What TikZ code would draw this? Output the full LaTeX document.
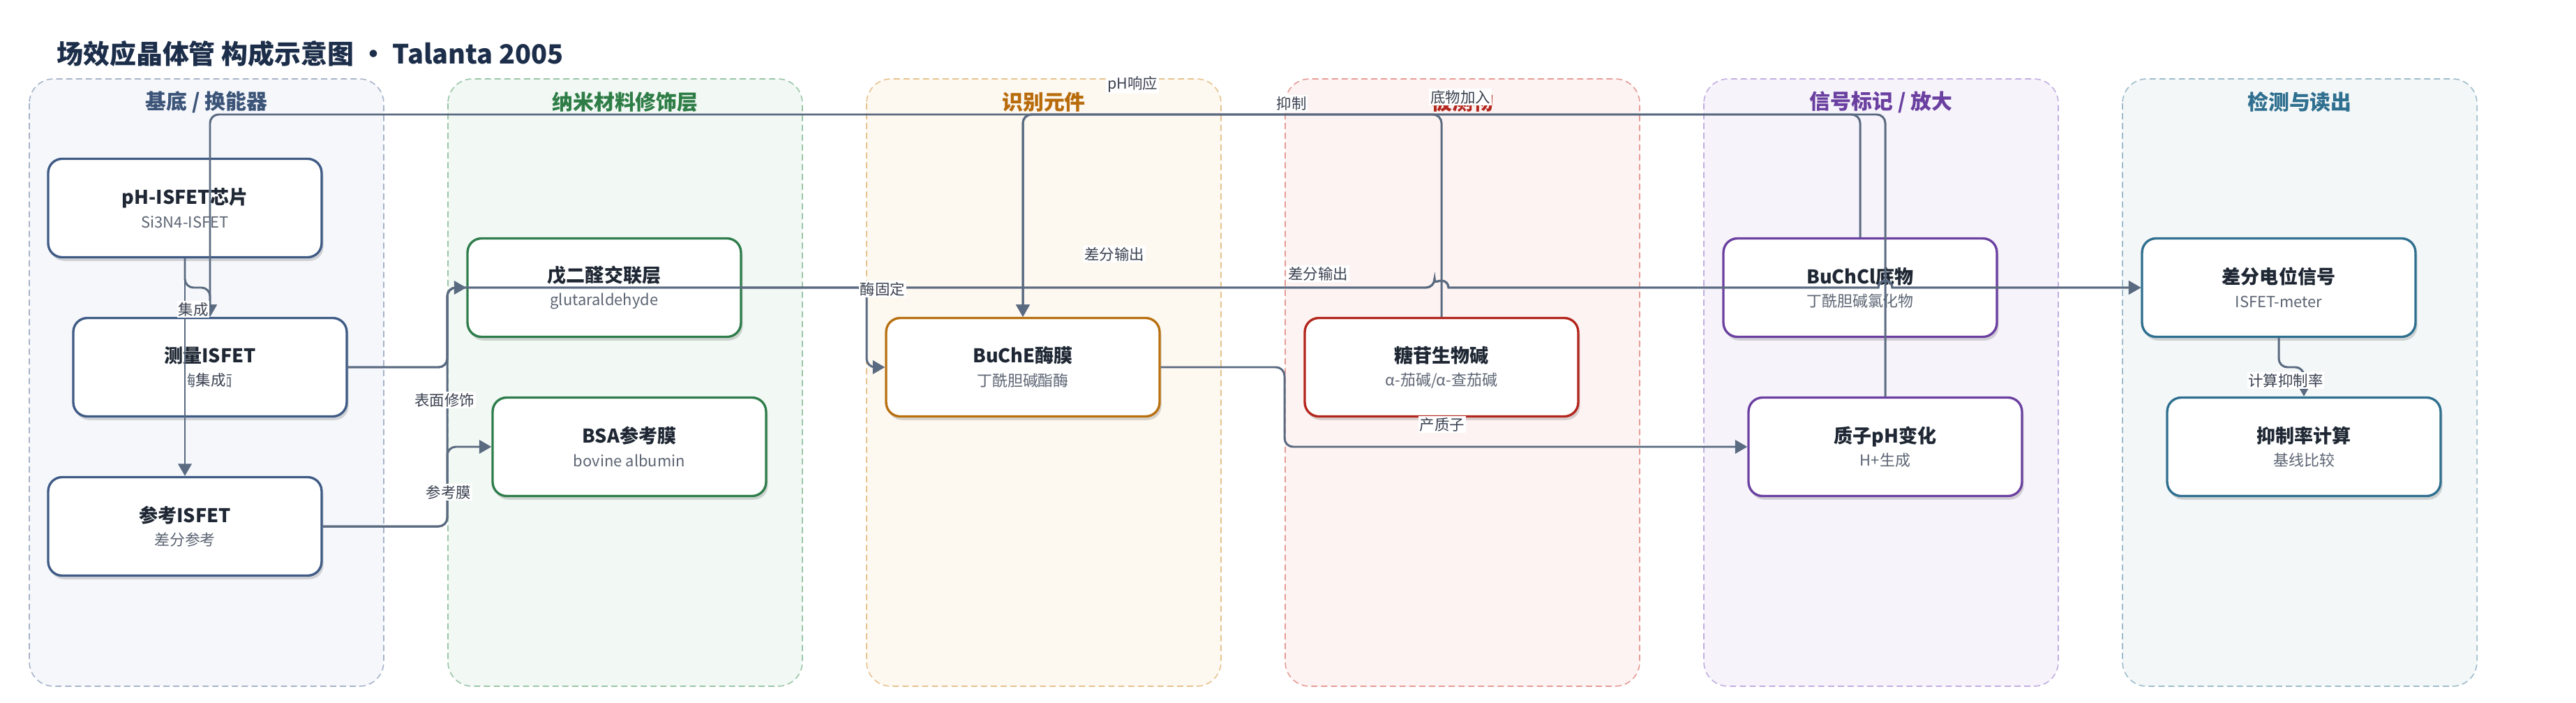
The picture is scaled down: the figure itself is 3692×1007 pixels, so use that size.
\documentclass[tikz,border=0pt]{standalone}
\usepackage{fontspec}
\setmainfont{Noto Sans CJK SC}
\usetikzlibrary{arrows.meta,calc,shadows}

\definecolor{titlec}{HTML}{1C2E4A}
\definecolor{nodetxt}{HTML}{1E2733}
\definecolor{subtxt}{HTML}{5C6573}
\definecolor{edgec}{HTML}{5A6A80}
\definecolor{lblc}{HTML}{3A4150}
% group colours: fill / dashed border / title / node border
\definecolor{gAf}{HTML}{F5F7FB}\definecolor{gAb}{HTML}{A7B4C8}\definecolor{gAt}{HTML}{3B5478}\definecolor{gAn}{HTML}{3F5B85}
\definecolor{gBf}{HTML}{F2F8F4}\definecolor{gBb}{HTML}{9AC6A7}\definecolor{gBt}{HTML}{2E7D46}\definecolor{gBn}{HTML}{2E7D4A}
\definecolor{gCf}{HTML}{FDF8F0}\definecolor{gCb}{HTML}{E6C38E}\definecolor{gCt}{HTML}{B86B0B}\definecolor{gCn}{HTML}{B8700F}
\definecolor{gDf}{HTML}{FDF3F2}\definecolor{gDb}{HTML}{E59B96}\definecolor{gDt}{HTML}{B3261E}\definecolor{gDn}{HTML}{B3261E}
\definecolor{gEf}{HTML}{F6F3FB}\definecolor{gEb}{HTML}{C2AEE0}\definecolor{gEt}{HTML}{6A3FA0}\definecolor{gEn}{HTML}{6B40A0}
\definecolor{gFf}{HTML}{F3F7F8}\definecolor{gFb}{HTML}{9EBCCB}\definecolor{gFt}{HTML}{2F6F8F}\definecolor{gFn}{HTML}{2F6F8F}

\newcommand{\boxtxt}[2]{{\bfseries\color{nodetxt}#1}\\{\fontsize{12.5}{19}\selectfont\color{subtxt}#2}}

\tikzset{
	grp/.style={dashed, dash pattern=on 5pt off 3pt, line width=0.9pt, rounded corners=0.7cm},
	gtitle/.style={font=\fontsize{17}{20}\selectfont\bfseries},
	blk/.style={fill=white, line width=1.9pt, rounded corners=0.4cm,
		minimum width=7.84cm, minimum height=2.82cm, align=center, inner sep=0pt,
		font=\fontsize{15.4}{19}\selectfont,
		drop shadow={shadow xshift=1.5pt, shadow yshift=-3pt, opacity=0.15, fill=black}},
	edge/.style={draw=edgec, line width=1.7pt, rounded corners=7pt,
		-{Triangle[length=10pt,width=11pt]}},
	lbl/.style={fill=white, inner sep=1pt, text=lblc, font=\fontsize{12.2}{14}\selectfont},
}

\begin{document}
\begin{tikzpicture}[x=0.02cm, y=-0.02cm]
	\useasboundingbox (0,0) rectangle (3692,1007);

	%title
	\node[anchor=west, text=titlec, font=\fontsize{21.6}{26}\selectfont\bfseries] (title) at (75,77)
		{场效应晶体管 构成示意图 · Talanta 2005};

	%groups
	\draw[grp, draw=gAb, fill=gAf] (42,113)   rectangle (550,983);
	\draw[grp, draw=gBb, fill=gBf] (642,113)  rectangle (1150,983);
	\draw[grp, draw=gCb, fill=gCf] (1242,113) rectangle (1750,983);
	\draw[grp, draw=gDb, fill=gDf] (1842,113) rectangle (2350,983);
	\draw[grp, draw=gEb, fill=gEf] (2442,113) rectangle (2950,983);
	\draw[grp, draw=gFb, fill=gFf] (3042,113) rectangle (3550,983);
	%
	\node[gtitle, text=gAt] (gA) at (296,146)  {基底 / 换能器};
	\node[gtitle, text=gBt] (gB) at (896,146)  {纳米材料修饰层};
	\node[gtitle, text=gCt] (gC) at (1496,146) {识别元件};
	\node[gtitle, text=gDt] (gD) at (2096,146) {被测物};
	\node[gtitle, text=gEt] (gE) at (2696,146) {信号标记 / 放大};
	\node[gtitle, text=gFt] (gF) at (3296,146) {检测与读出};

	%nodes
	\node[blk, draw=gAn] (chip)   at (265,298)  {\boxtxt{pH-ISFET芯片}{Si3N4-ISFET}};
	\node[blk, draw=gAn] (meas)   at (301,526)  {\boxtxt{测量ISFET}{敏感面}};
	\node[blk, draw=gAn] (ref)    at (265,754)  {\boxtxt{参考ISFET}{差分参考}};
	\node[blk, draw=gBn] (glut)   at (866,412)  {\boxtxt{戊二醛交联层}{glutaraldehyde}};
	\node[blk, draw=gBn] (bsa)    at (902,640)  {\boxtxt{BSA参考膜}{bovine albumin}};
	\node[blk, draw=gCn] (buche)  at (1466,526) {\boxtxt{BuChE酶膜}{丁酰胆碱酯酶}};
	\node[blk, draw=gDn] (gly)    at (2066,526) {\boxtxt{糖苷生物碱}{α-茄碱/α-查茄碱}};
	\node[blk, draw=gEn] (buchcl) at (2666,412) {\boxtxt{BuChCl底物}{丁酰胆碱氯化物}};
	\node[blk, draw=gEn] (proton) at (2702,640) {\boxtxt{质子pH变化}{H+生成}};
	\node[blk, draw=gFn] (diff)   at (3266,412) {\boxtxt{差分电位信号}{ISFET-meter}};
	\node[blk, draw=gFn] (inhib)  at (3302,640) {\boxtxt{抑制率计算}{基线比较}};

	%routing helpers
	\coordinate (busA) at (641,0);
	\coordinate (busB) at (1242,0);
	\coordinate (busC) at (1841,0);
	\coordinate (topY) at (0,164);
	\coordinate (jogA) at (0,412);
	\coordinate (jogB) at (0,526);
	\coordinate (hopA) at ($(gly.north |- glut.west)+(-10,0)$);
	\coordinate (hopB) at ($(proton.north |- glut.west)+(-10,0)$);

	%connectors
	\draw[edge] (chip.south) -- (chip.south |- jogA) -- (meas.north |- jogA) -- (meas.north);	%集成
	\draw[edge] (chip.south) -- (ref.north);														%集成
	\draw[edge] (meas.east) -- (meas.east -| busA) -- (busA |- glut.west) -- (glut.west);		%表面修饰
	\draw[edge] (ref.east) -- (ref.east -| busA) -- (busA |- bsa.west) -- (bsa.west);			%参考膜
	\draw[edge] (glut.east) -- (glut.east -| busB) -- (busB |- buche.west) -- (buche.west);	%酶固定
	\draw[edge] (gly.north) -- (gly.north |- topY) -- (buche.north |- topY) -- (buche.north);	%抑制
	\draw[edge] (buchcl.north) -- (buchcl.north |- topY) -- (buche.north |- topY) -- (buche.north); %底物加入
	\draw[edge] (buche.east) -- (buche.east -| busC) -- (busC |- proton.west) -- (proton.west);	%产质子
	\draw[edge] (proton.north) -- (proton.north |- topY) -- (meas.north |- topY) -- (meas.north); %pH响应
	\draw[edge] (diff.south) -- (diff.south |- jogB) -- (inhib.north |- jogB) -- (inhib.north);	%计算抑制率
	%差分输出 (two edges on one track, hopping the risers)
	\draw[edge] (meas.east) -- (meas.east -| busA) -- (busA |- glut.west) -- (hopA)
		[sharp corners] arc[start angle=180, end angle=360, radius=10] -- (hopB)
		arc[start angle=180, end angle=360, radius=10] -- (diff.west);
	\draw[edge] (ref.east) -- (ref.east -| busA) -- (busA |- glut.west) -- (hopA)
		[sharp corners] arc[start angle=180, end angle=360, radius=10] -- (hopB)
		arc[start angle=180, end angle=360, radius=10] -- (diff.west);

	%labels
	\node[lbl] (lA) at (277,443)  {集成};
	\node[lbl] (lB) at (302,544)  {集成};
	\node[lbl] (lC) at (637,573)  {表面修饰};
	\node[lbl] (lD) at (643,705)  {参考膜};
	\node[lbl] (lE) at (1265,414) {酶固定};
	\node[lbl] (lF) at (1597,364) {差分输出};
	\node[lbl] (lG) at (1889,392) {差分输出};
	\node[lbl] (lH) at (1623,121) {pH响应};
	\node[lbl] (lI) at (1851,148) {抑制};
	\node[lbl] (lJ) at (2093,139) {底物加入};
	\node[lbl] (lK) at (2067,608) {产质子};
	\node[lbl] (lL) at (3276,545) {计算抑制率};
\end{tikzpicture}
\end{document}
